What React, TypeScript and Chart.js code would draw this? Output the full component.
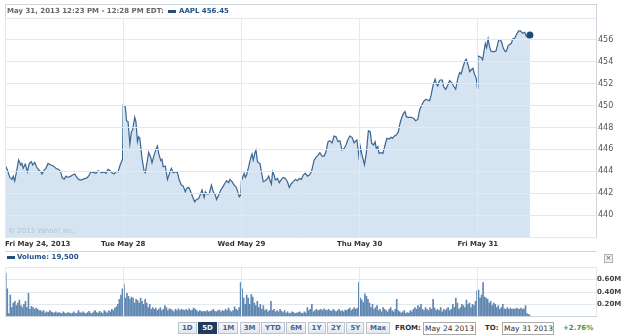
import React, { useEffect, useRef } from "react";
import { Chart, registerables } from "chart.js";

Chart.register(...registerables);

const FONT = '"DejaVu Sans", Verdana, sans-serif';

// Trading-minute axis: every session is 390 minutes (9:30 - 16:00 EDT)
const sessionStarts = [0, 390, 780, 1170, 1560, 1950];
const sessionLabels = ["Fri May 24, 2013", "Tue May 28", "Wed May 29", "Thu May 30", "Fri May 31", ""];
const priceTicks = [438, 440, 442, 444, 446, 448, 450, 452, 454, 456, 458];
const volumeTicks = [0, 0.2, 0.4, 0.6, 0.8];
const rangeButtons = ["1D", "5D", "1M", "3M", "YTD", "6M", "1Y", "2Y", "5Y", "Max"];

// [minute of session, AAPL price]
const pricesMay24: [number, number][] = [
  [0, 444.57], [8, 444.11], [16, 443.44], [23, 443.26], [27, 443.56], [32, 443.11], [38, 443.96], [45, 445.03],
  [52, 444.57], [56, 444.72], [60, 444.27], [67, 444.66], [74, 443.96], [80, 444.72], [87, 444.88], [91, 444.57],
  [98, 444.81], [104, 444.42], [111, 444.11], [118, 443.96], [122, 443.75], [129, 444.11], [135, 444.27], [142, 444.72],
  [151, 444.57], [160, 444.48], [168, 444.27], [177, 444.17], [184, 443.96], [188, 443.44], [195, 443.26], [201, 443.56],
  [208, 443.44], [217, 443.56], [223, 443.66], [230, 443.75], [237, 443.44], [243, 443.26], [250, 443.2], [256, 443.26],
  [265, 443.35], [272, 443.44], [278, 443.66], [283, 443.96], [292, 443.9], [300, 443.81], [307, 444.05], [314, 443.96],
  [320, 443.87], [327, 443.96], [333, 443.81], [340, 444.17], [347, 444.05], [353, 443.87], [360, 443.75], [366, 443.96],
  [373, 443.96], [380, 444.57], [388, 445.12],
];
const pricesMay28: [number, number][] = [
  [0, 450.05], [7, 449.9], [11, 448.62], [16, 448.53], [22, 446.49], [27, 447.62], [31, 447.77], [38, 448.93],
  [42, 448.53], [47, 446.7], [51, 447.16], [55, 447.0], [62, 445.18], [69, 444.02], [73, 443.87], [80, 445.03],
  [84, 445.73], [91, 445.27], [95, 444.78], [102, 445.48], [108, 446.0], [113, 446.31], [117, 445.64], [124, 444.97],
  [128, 445.09], [132, 444.42], [139, 444.48], [146, 443.26], [152, 443.75], [159, 444.27], [165, 443.87], [172, 443.96],
  [179, 443.87], [185, 443.2], [192, 442.74], [198, 442.65], [205, 442.13], [209, 442.44], [216, 442.53], [223, 442.13],
  [229, 441.68], [236, 441.22], [242, 441.43], [249, 441.52], [256, 441.98], [260, 442.29], [267, 441.61], [271, 442.13],
  [278, 441.92], [284, 441.98], [291, 442.74], [297, 442.13], [304, 441.83], [308, 441.43], [315, 441.83], [322, 442.29],
  [328, 442.53], [335, 442.89], [341, 443.14], [348, 442.96], [352, 443.26], [359, 443.05], [366, 442.74], [372, 442.59],
  [377, 442.23], [383, 441.68], [388, 441.83],
];
const pricesMay29: [number, number][] = [
  [0, 443.14], [9, 443.81], [13, 443.44], [17, 443.66], [24, 444.42], [31, 445.27], [35, 445.58], [39, 445.03],
  [44, 445.64], [48, 445.94], [53, 444.88], [57, 444.78], [61, 444.72], [66, 443.96], [72, 443.05], [79, 443.14],
  [86, 443.35], [90, 443.56], [94, 443.2], [99, 442.83], [103, 443.96], [108, 443.66], [112, 443.2], [119, 443.35],
  [125, 442.96], [132, 443.26], [138, 443.44], [145, 443.35], [152, 443.05], [158, 442.53], [165, 442.89], [171, 443.05],
  [178, 443.26], [185, 443.14], [191, 443.35], [198, 443.26], [204, 443.66], [211, 443.81], [218, 443.56], [224, 443.66],
  [231, 443.96], [235, 444.42], [240, 445.03], [246, 445.27], [253, 445.48], [259, 445.69], [266, 445.39], [273, 445.39],
  [279, 445.79], [286, 446.7], [292, 446.8], [299, 446.6], [306, 447.22], [312, 447.16], [319, 446.7], [325, 446.8],
  [332, 445.94], [339, 446.09], [345, 446.4], [352, 446.92], [358, 447.22], [365, 447.1], [372, 446.6], [375, 446.7],
  [381, 446.86], [386, 445.79], [389, 445.0],
];
const pricesMay30: [number, number][] = [
  [2, 446.3], [8, 445.5], [16, 444.6], [22, 445.64], [29, 447.71], [35, 447.62], [40, 446.55], [46, 446.4],
  [51, 446.7], [55, 446.09], [60, 446.25], [64, 445.64], [71, 445.7], [77, 445.64], [84, 446.4], [90, 447.01],
  [97, 446.95], [104, 447.1], [108, 447.01], [115, 447.22], [121, 447.31], [128, 447.62], [132, 448.23], [139, 448.93],
  [145, 449.29], [150, 449.45], [154, 448.99], [161, 448.93], [170, 448.93], [178, 448.84], [185, 448.62], [192, 448.74],
  [198, 449.6], [205, 450.05], [211, 450.36], [218, 450.57], [225, 450.51], [231, 450.45], [236, 450.97], [242, 451.79],
  [249, 452.4], [253, 452.04], [258, 451.79], [262, 452.19], [266, 452.34], [273, 452.34], [277, 451.73], [284, 451.49],
  [291, 451.88], [297, 452.28], [304, 452.1], [310, 451.79], [317, 451.49], [324, 452.49], [330, 453.01], [335, 452.89],
  [341, 453.5], [348, 454.11], [352, 454.23], [359, 453.62], [363, 453.1], [370, 453.32], [374, 453.41], [379, 452.89],
  [385, 452.49], [389, 451.58],
];
const pricesMay31: [number, number][] = [
  [0, 454.56], [12, 454.38], [16, 454.17], [21, 455.08], [25, 455.69], [29, 455.3], [34, 456.09], [38, 455.48],
  [43, 454.99], [47, 454.93], [54, 454.93], [60, 454.99], [65, 455.54], [69, 456.0], [75, 456.0], [80, 455.69],
  [84, 455.23], [91, 454.93], [95, 454.99], [100, 455.48], [106, 455.6], [111, 455.69], [115, 456.09], [122, 456.15],
  [128, 456.51], [135, 456.82], [141, 456.82], [148, 456.61], [155, 456.7], [159, 456.39], [166, 456.21], [172, 456.45],
];

// 5-minute volume bars, millions of shares
const volumeMay24 = [
  0.70, 0.45, 0.05, 0.35, 0.15, 0.22, 0.25, 0.18, 0.22, 0.27, 0.18, 0.15, 0.20, 0.25, 0.15, 0.38, 0.12, 0.17, 0.15, 0.12,
  0.14, 0.12, 0.10, 0.10, 0.08, 0.10, 0.06, 0.08, 0.07, 0.10, 0.08, 0.07, 0.06, 0.08, 0.06, 0.07, 0.06, 0.05, 0.08, 0.06,
  0.05, 0.07, 0.06, 0.05, 0.06, 0.08, 0.05, 0.06, 0.10, 0.07, 0.06, 0.08, 0.06, 0.05, 0.07, 0.09, 0.06, 0.05, 0.08, 0.10,
  0.07, 0.06, 0.09, 0.07, 0.05, 0.10, 0.08, 0.06, 0.10, 0.08, 0.12, 0.10, 0.14, 0.16, 0.20, 0.28, 0.35, 0.45,
];
const volumeMay28 = [
  0.52, 0.30, 0.38, 0.33, 0.28, 0.32, 0.30, 0.22, 0.28, 0.26, 0.22, 0.30, 0.25, 0.20, 0.28, 0.22, 0.15, 0.20, 0.12, 0.15,
  0.12, 0.14, 0.10, 0.12, 0.15, 0.10, 0.12, 0.18, 0.15, 0.10, 0.13, 0.12, 0.10, 0.08, 0.12, 0.10, 0.13, 0.10, 0.12, 0.11,
  0.10, 0.12, 0.10, 0.13, 0.10, 0.11, 0.14, 0.12, 0.10, 0.08, 0.10, 0.09, 0.08, 0.09, 0.08, 0.10, 0.08, 0.09, 0.10, 0.12,
  0.09, 0.08, 0.10, 0.11, 0.08, 0.10, 0.09, 0.12, 0.10, 0.14, 0.10, 0.08, 0.10, 0.16, 0.12, 0.10, 0.15, 0.55,
];
const volumeMay29 = [
  0.45, 0.30, 0.20, 0.35, 0.30, 0.20, 0.36, 0.32, 0.22, 0.18, 0.25, 0.15, 0.20, 0.12, 0.18, 0.10, 0.12, 0.08, 0.10, 0.25,
  0.10, 0.12, 0.08, 0.10, 0.08, 0.12, 0.09, 0.07, 0.10, 0.06, 0.08, 0.05, 0.06, 0.08, 0.07, 0.05, 0.06, 0.07, 0.08, 0.06,
  0.05, 0.08, 0.06, 0.15, 0.10, 0.12, 0.20, 0.08, 0.10, 0.12, 0.10, 0.11, 0.12, 0.10, 0.13, 0.11, 0.10, 0.12, 0.10, 0.09,
  0.12, 0.10, 0.08, 0.10, 0.12, 0.09, 0.10, 0.08, 0.11, 0.10, 0.12, 0.14, 0.10, 0.12, 0.15, 0.12, 0.14, 0.55,
];
const volumeMay30 = [
  0.30, 0.27, 0.23, 0.37, 0.33, 0.28, 0.22, 0.15, 0.20, 0.12, 0.15, 0.18, 0.10, 0.12, 0.08, 0.15, 0.12, 0.10, 0.08, 0.12,
  0.15, 0.10, 0.08, 0.12, 0.28, 0.10, 0.08, 0.06, 0.08, 0.10, 0.05, 0.07, 0.06, 0.10, 0.08, 0.12, 0.15, 0.12, 0.18, 0.15,
  0.20, 0.12, 0.10, 0.15, 0.12, 0.10, 0.15, 0.12, 0.28, 0.14, 0.10, 0.12, 0.10, 0.15, 0.08, 0.12, 0.10, 0.13, 0.15, 0.10,
  0.12, 0.20, 0.15, 0.30, 0.22, 0.12, 0.15, 0.20, 0.18, 0.15, 0.27, 0.20, 0.22, 0.15, 0.20, 0.18, 0.25, 0.42,
];
const volumeMay31 = [
  0.43, 0.30, 0.35, 0.55, 0.32, 0.30, 0.28, 0.22, 0.25, 0.18, 0.22, 0.20, 0.15, 0.18, 0.12, 0.15, 0.20, 0.13, 0.12, 0.15,
  0.12, 0.14, 0.12, 0.13, 0.12, 0.14, 0.13, 0.12, 0.14, 0.12, 0.13, 0.18, 0.05, 0.04, 0.0195,
];

const priceSessions = [pricesMay24, pricesMay28, pricesMay29, pricesMay30, pricesMay31];
const volumeSessions = [volumeMay24, volumeMay28, volumeMay29, volumeMay30, volumeMay31];

const GRID = "#e3e9ef";
const BORDER = "#cdd5de";

function dayAxis(showLabels: boolean, height: number) {
  return {
    type: "linear" as const,
    min: 0,
    max: 1950,
    offset: false,
    afterBuildTicks: (s: any) => {
      s.ticks = sessionStarts.map((v) => ({ value: v }));
    },
    afterFit: (s: any) => {
      s.height = height;
    },
    grid: { color: GRID, lineWidth: 1, drawTicks: false, offset: false, z: 1 },
    border: { display: true, color: BORDER, z: 1 },
    ticks: {
      display: showLabels,
      align: "inner" as const,
      autoSkip: false,
      maxRotation: 0,
      minRotation: 0,
      padding: 3,
      color: "#333",
      font: { family: FONT, size: 7, weight: "bold" as const },
      callback: (_v: any, i: number) => sessionLabels[i],
    },
  };
}

export default function App() {
  const priceRef = useRef<HTMLCanvasElement>(null);
  const volRef = useRef<HTMLCanvasElement>(null);

  useEffect(() => {
    const pricePoints = priceSessions.flatMap((s, d) => s.map(([m, p]) => ({ x: sessionStarts[d] + m, y: p })));
    const volumePoints = volumeSessions.flatMap((s, d) => s.map((v, i) => ({ x: sessionStarts[d] + 5 * i + 2.5, y: v })));
    const last = pricePoints.length - 1;

    const priceChart = new Chart(priceRef.current!, {
      type: "line",
      data: {
        datasets: [
          {
            data: pricePoints,
            borderColor: "#3a6591",
            borderWidth: 1.2,
            backgroundColor: "#d5e4f0",
            fill: "start",
            tension: 0,
            pointRadius: (ctx: any) => (ctx.dataIndex === last ? 3.5 : 0),
            pointBackgroundColor: "#1f4c7a",
            pointBorderWidth: 0,
            pointHoverRadius: 0,
          },
        ],
      },
      options: {
        responsive: false,
        animation: false,
        devicePixelRatio: 1,
        events: [],
        layout: { padding: { left: 5, top: 18, right: 0, bottom: 0 } },
        plugins: { legend: { display: false }, tooltip: { enabled: false } },
        scales: {
          x: dayAxis(true, 15),
          y: {
            type: "linear",
            position: "right",
            min: 438,
            max: 458,
            afterBuildTicks: (s: any) => {
              s.ticks = priceTicks.map((v) => ({ value: v }));
            },
            afterFit: (s: any) => {
              s.width = 29;
            },
            grid: { color: GRID, drawTicks: false, z: 1 },
            border: { color: BORDER, z: 1 },
            ticks: {
              padding: 2,
              color: "#555",
              font: { family: FONT, size: 8 },
              callback: (v: any) => (v === 438 || v === 458 ? "" : String(v)),
            },
          },
        },
      },
    } as any);

    const volumeChart = new Chart(volRef.current!, {
      type: "bar",
      data: {
        datasets: [
          {
            data: volumePoints,
            backgroundColor: "#5f87b2",
            barThickness: 1,
            borderWidth: 0,
          },
        ],
      },
      options: {
        responsive: false,
        animation: false,
        devicePixelRatio: 1,
        events: [],
        layout: { padding: { left: 5, top: 4, right: 0, bottom: 0 } },
        plugins: { legend: { display: false }, tooltip: { enabled: false } },
        scales: {
          x: dayAxis(false, 4),
          y: {
            type: "linear",
            position: "right",
            min: 0,
            max: 0.8,
            afterBuildTicks: (s: any) => {
              s.ticks = volumeTicks.map((v) => ({ value: v }));
            },
            afterFit: (s: any) => {
              s.width = 29;
            },
            grid: { color: GRID, drawTicks: false },
            border: { color: BORDER },
            ticks: {
              padding: 1,
              color: "#444",
              font: { family: FONT, size: 7, weight: "bold" },
              callback: (v: any) => (v === 0 || v === 0.8 ? "" : Number(v).toFixed(2) + "M"),
            },
          },
        },
      },
    } as any);

    return () => {
      priceChart.destroy();
      volumeChart.destroy();
    };
  }, []);

  const text = (size: number, bold: boolean, color: string) => ({
    fontFamily: FONT,
    fontSize: size,
    fontWeight: bold ? ("bold" as const) : ("normal" as const),
    color,
    whiteSpace: "nowrap" as const,
    lineHeight: "12px",
  });

  return (
    <div
      style={{
        position: "fixed",
        left: 0,
        top: 0,
        width: 625,
        height: 336,
        background: "#fff",
        overflow: "hidden",
        fontFamily: FONT,
      }}
    >
      <canvas ref={priceRef} width={625} height={252} style={{ position: "absolute", left: 0, top: 0 }} />
      <canvas ref={volRef} width={625} height={60} style={{ position: "absolute", left: 0, top: 262 }} />

      {/* price legend header */}
      <div
        style={{
          position: "absolute",
          left: 5,
          top: 4,
          width: 592,
          height: 14,
          boxSizing: "border-box",
          borderTop: `1px solid ${BORDER}`,
          borderLeft: `1px solid ${BORDER}`,
          borderRight: `1px solid ${BORDER}`,
        }}
      />
      <div style={{ position: "absolute", left: 7, top: 5, ...text(7, true, "#666") }}>
        May 31, 2013 12:23 PM - 12:28 PM EDT:
      </div>
      <div style={{ position: "absolute", left: 168, top: 10, width: 8, height: 3, background: "#244f7d" }} />
      <div style={{ position: "absolute", left: 179, top: 5, ...text(7, true, "#22508a") }}>AAPL 456.45</div>

      {/* copyright watermark */}
      <div style={{ position: "absolute", left: 8, top: 225, ...text(7, false, "rgba(140,150,162,0.45)") }}>
        © 2013 Yahoo! Inc.
      </div>

      {/* volume legend */}
      <div style={{ position: "absolute", left: 5, top: 251, width: 591, height: 1, background: BORDER }} />
      <div style={{ position: "absolute", left: 7, top: 256, width: 8, height: 3, background: "#244f7d" }} />
      <div style={{ position: "absolute", left: 17, top: 251, ...text(7, true, "#22508a") }}>Volume: 19,500</div>
      <div
        style={{
          position: "absolute",
          left: 604,
          top: 254,
          width: 9,
          height: 9,
          boxSizing: "border-box",
          border: "1px solid #a9b1ba",
          background: "#eef0f3",
          color: "#555",
          fontSize: 7,
          lineHeight: "7px",
          textAlign: "center",
          fontFamily: FONT,
        }}
      >
        ×
      </div>

      {/* range buttons */}
      <div style={{ position: "absolute", left: 178, top: 322, display: "flex", gap: 1.5 }}>
        {rangeButtons.map((b) => {
          const sel = b === "5D";
          return (
            <div
              key={b}
              style={{
                boxSizing: "border-box",
                minWidth: 17.5,
                height: 12,
                padding: "0 3px",
                border: `1px solid ${sel ? "#1e3a5f" : "#bac4cf"}`,
                background: sel ? "#1e3a5f" : "linear-gradient(#f7f8fa, #e2e7ed)",
                textAlign: "center",
                ...text(7, true, sel ? "#fff" : "#43678e"),
                lineHeight: "10px",
              }}
            >
              {b}
            </div>
          );
        })}
      </div>

      <div style={{ position: "absolute", left: 395, top: 322, ...text(7, true, "#333") }}>FROM:</div>
      <div
        style={{
          position: "absolute",
          left: 423,
          top: 322,
          width: 53,
          height: 13,
          boxSizing: "border-box",
          border: "1px solid #a9a9a9",
          paddingLeft: 1,
          ...text(7.5, false, "#333"),
          lineHeight: "11px",
        }}
      >
        May 24 2013
      </div>
      <div style={{ position: "absolute", left: 485, top: 322, ...text(7, true, "#333") }}>TO:</div>
      <div
        style={{
          position: "absolute",
          left: 502,
          top: 322,
          width: 52,
          height: 13,
          boxSizing: "border-box",
          border: "1px solid #a9a9a9",
          paddingLeft: 1,
          ...text(7.5, false, "#333"),
          lineHeight: "11px",
        }}
      >
        May 31 2013
      </div>
      <div style={{ position: "absolute", left: 563, top: 322, ...text(7, true, "#3a9a3a") }}>+2.76%</div>
    </div>
  );
}
